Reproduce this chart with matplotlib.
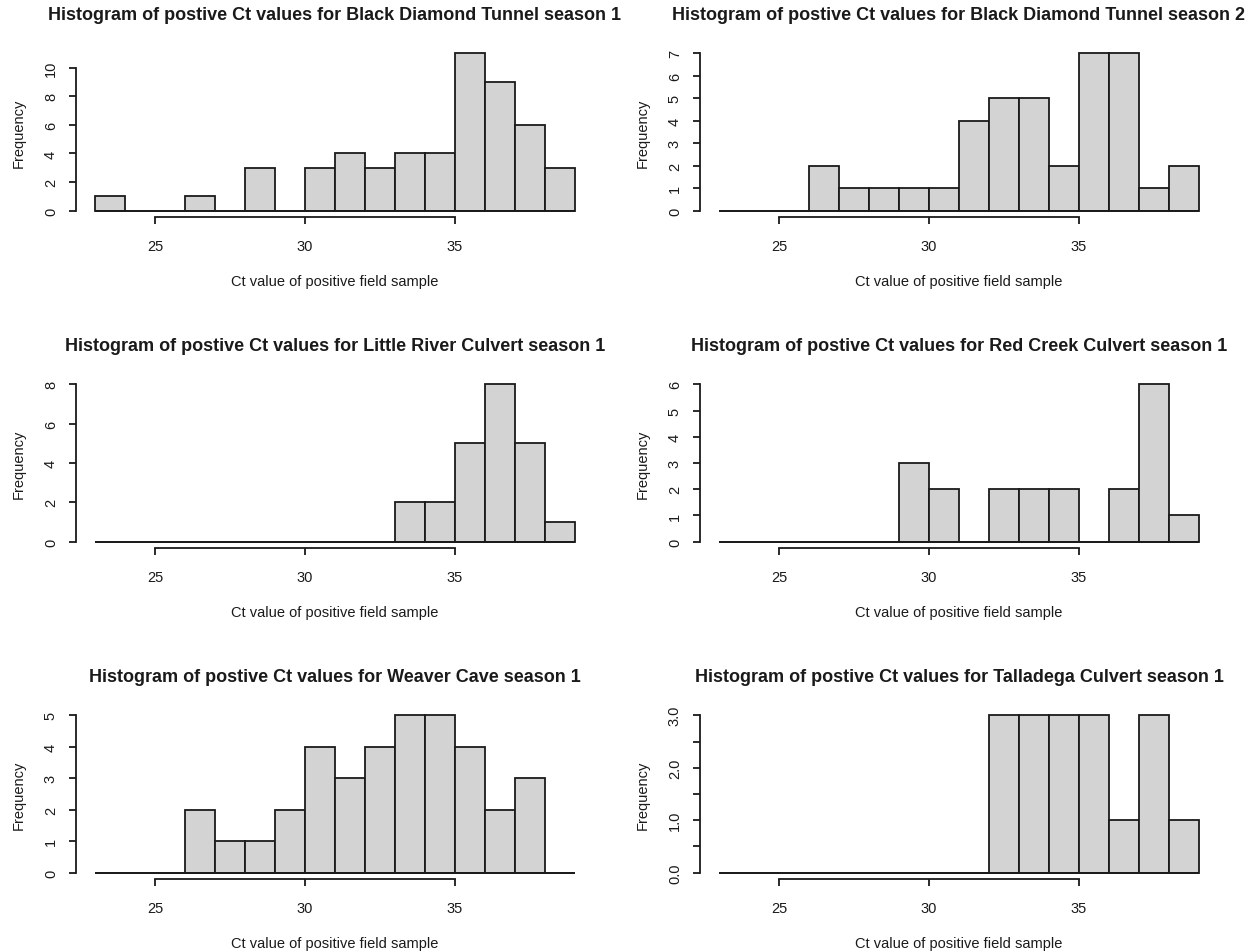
import matplotlib
matplotlib.use("Agg")
import matplotlib.pyplot as plt
import numpy as np

plt.rcParams['font.family'] = ['Liberation Sans', 'DejaVu Sans']

bin_edges = list(range(23, 40))  # 23..39, width 1

titles = [
    "Histogram of postive Ct values for Black Diamond Tunnel season 1",
    "Histogram of postive Ct values for Black Diamond Tunnel season 2",
    "Histogram of postive Ct values for Little River Culvert season 1",
    "Histogram of postive Ct values for Red Creek Culvert season 1",
    "Histogram of postive Ct values for Weaver Cave season 1",
    "Histogram of postive Ct values for Talladega Culvert season 1",
]

bdt_s1 = [1, 0, 0, 1, 0, 3, 0, 3, 4, 3, 4, 4, 11, 9, 6, 3]
bdt_s2 = [0, 0, 0, 2, 1, 1, 1, 1, 4, 5, 5, 2, 7, 7, 1, 2]
lrc_s1 = [0, 0, 0, 0, 0, 0, 0, 0, 0, 0, 2, 2, 5, 8, 5, 1]
rcc_s1 = [0, 0, 0, 0, 0, 0, 3, 2, 0, 2, 2, 2, 0, 2, 6, 1]
wc_s1 = [0, 0, 0, 2, 1, 1, 2, 4, 3, 4, 5, 5, 4, 2, 3, 0]
tc_s1 = [0, 0, 0, 0, 0, 0, 0, 0, 0, 3, 3, 3, 3, 1, 3, 1]

counts = [bdt_s1, bdt_s2, lrc_s1, rcc_s1, wc_s1, tc_s1]

x_ticks = [25, 30, 35]
y_ticks = [
    [0, 2, 4, 6, 8, 10],
    [0, 1, 2, 3, 4, 5, 6, 7],
    [0, 2, 4, 6, 8],
    [0, 1, 2, 3, 4, 5, 6],
    [0, 1, 2, 3, 4, 5],
    [0.0, 0.5, 1.0, 1.5, 2.0, 2.5, 3.0],
]
y_labels = [
    ["0", "2", "4", "6", "8", "10"],
    ["0", "1", "2", "3", "4", "5", "6", "7"],
    ["0", "2", "4", "6", "8"],
    ["0", "1", "2", "3", "4", "5", "6"],
    ["0", "1", "2", "3", "4", "5"],
    ["0.0", "", "1.0", "", "2.0", "", "3.0"],
]

W, H = 1255, 953
fig = plt.figure(figsize=(W / 100, H / 100), dpi=100)

col_left = [76, 700]
col_w = 518
row_top = [48, 379, 710]
row_h = 170

lw = 1.3
for i in range(6):
    r, c = divmod(i, 2)
    ax = fig.add_axes([col_left[c] / W, 1 - (row_top[r] + row_h) / H, col_w / W, row_h / H])
    edges = np.array(bin_edges, dtype=float)
    vals = np.array(counts[i], dtype=float)
    ax.bar(edges[:-1], vals, width=np.diff(edges), align='edge',
           color='#D3D3D3', edgecolor='#1a1a1a', linewidth=lw)
    ax.hlines(0, edges[0], edges[-1], color='#1a1a1a', linewidth=lw)
    x0, x1 = edges[0], edges[-1]
    d = 0.04 * (x1 - x0)
    ax.set_xlim(x0 - d, x1 + d)
    ymax = max(vals)
    ax.set_ylim(-0.04 * ymax, 1.04 * ymax)
    for s in ['top', 'right']:
        ax.spines[s].set_visible(False)
    ax.spines['left'].set_bounds(y_ticks[i][0], y_ticks[i][-1])
    ax.spines['bottom'].set_bounds(x_ticks[0], x_ticks[-1])
    ax.spines['left'].set_linewidth(lw)
    ax.spines['bottom'].set_linewidth(lw)
    ax.spines['left'].set_color('#1a1a1a')
    ax.spines['bottom'].set_color('#1a1a1a')
    ax.set_xticks(x_ticks)
    ax.set_xticklabels([str(t) for t in x_ticks])
    ax.set_yticks(y_ticks[i])
    ax.set_yticklabels(y_labels[i], rotation=90, va='center')
    ax.tick_params(axis='both', length=5, width=lw, labelsize=10.5, color='#1a1a1a',
                   labelcolor='#1a1a1a')
    ax.tick_params(axis='x', pad=10.5)
    ax.tick_params(axis='y', pad=8)
    ax.set_xlabel("Ct value of positive field sample", fontsize=10.5, labelpad=15.5,
                  color='#1a1a1a')
    ax.set_ylabel("Frequency", fontsize=10.5, labelpad=13, color='#1a1a1a')
    ax.set_title(titles[i], fontsize=13, fontweight='bold', pad=20, color='#1a1a1a')

fig.savefig("out.png", dpi=100)
